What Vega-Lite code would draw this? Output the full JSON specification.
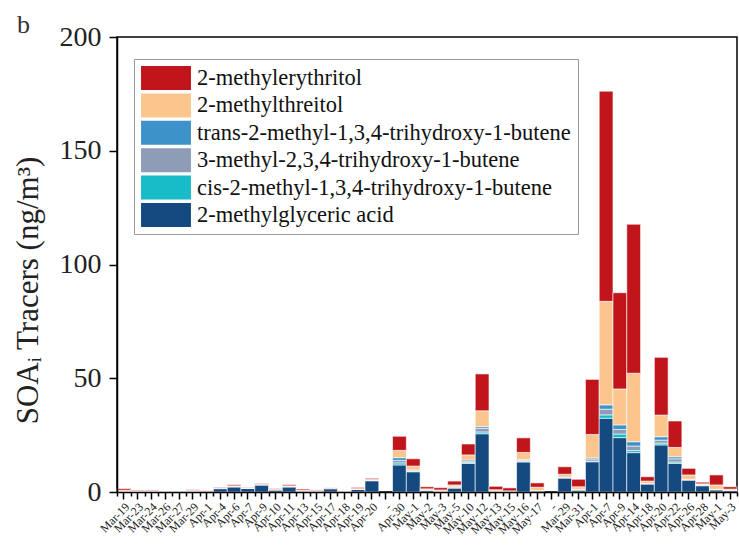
{
  "$schema": "https://vega.github.io/schema/vega-lite/v6.json",
  "width": 620,
  "height": 455,
  "autosize": {"type": "none"},
  "padding": {"left": 117, "top": 37, "right": 2, "bottom": 57},
  "background": "white",
  "config": {"view": {"stroke": "black", "strokeWidth": 1.5}},
  "title": {"text": "b", "anchor": "start", "frame": "group", "offset": -8, "dy": 28, "dx": -100, "baseline": "alphabetic", "font": "Liberation Serif", "fontSize": 26, "fontWeight": "normal", "color": "#333"},
  "datasets": {
    "names": [
      {"code": "G", "name": "2-methylglyceric acid", "rank": 1},
      {"code": "C", "name": "cis-2-methyl-1,3,4-trihydroxy-1-butene", "rank": 2},
      {"code": "M3", "name": "3-methyl-2,3,4-trihydroxy-1-butene", "rank": 3},
      {"code": "TR", "name": "trans-2-methyl-1,3,4-trihydroxy-1-butene", "rank": 4},
      {"code": "T", "name": "2-methylthreitol", "rank": 5},
      {"code": "E", "name": "2-methylerythritol", "rank": 6}
    ],
    "tracers": [
      {"k": "00|Mar-19", "G": 0.2, "C": 0, "M3": 0.2, "TR": 0, "T": 0.4, "E": 0.7},
      {"k": "01|Mar-23", "G": 0.1, "C": 0, "M3": 0.2, "TR": 0, "T": 0.2, "E": 0.3},
      {"k": "02|Mar-24", "G": 0.1, "C": 0, "M3": 0.3, "TR": 0, "T": 0.1, "E": 0.3},
      {"k": "03|Mar-26", "G": 0.05, "C": 0, "M3": 0, "TR": 0, "T": 0, "E": 0.05},
      {"k": "04|Mar-27", "G": 0.05, "C": 0, "M3": 0, "TR": 0, "T": 0, "E": 0.05},
      {"k": "05|Mar-29", "G": 0.2, "C": 0, "M3": 0.3, "TR": 0, "T": 0.2, "E": 0.3},
      {"k": "06|Apr-1", "G": 0.1, "C": 0, "M3": 0, "TR": 0, "T": 0.1, "E": 0.3},
      {"k": "07|Apr-4", "G": 1.5, "C": 0, "M3": 0.1, "TR": 0, "T": 0.1, "E": 0.3},
      {"k": "08|Apr-6", "G": 2.3, "C": 0, "M3": 0.1, "TR": 0.1, "T": 0.2, "E": 0.5},
      {"k": "09|Apr-7", "G": 1.6, "C": 0, "M3": 0.1, "TR": 0, "T": 0.1, "E": 0.2},
      {"k": "10|Apr-9", "G": 3.2, "C": 0, "M3": 0, "TR": 0, "T": 0.2, "E": 0.3},
      {"k": "11|Apr-10", "G": 1.0, "C": 0, "M3": 0, "TR": 0, "T": 0.2, "E": 0.3},
      {"k": "12|Apr-11", "G": 2.3, "C": 0, "M3": 0.1, "TR": 0, "T": 0.3, "E": 0.5},
      {"k": "13|Apr-13", "G": 0.5, "C": 0, "M3": 0, "TR": 0, "T": 0.3, "E": 0.5},
      {"k": "14|Apr-15", "G": 0.5, "C": 0, "M3": 0, "TR": 0, "T": 0.1, "E": 0.3},
      {"k": "15|Apr-17", "G": 1.5, "C": 0, "M3": 0, "TR": 0, "T": 0.1, "E": 0.2},
      {"k": "16|Apr-18", "G": 0.1, "C": 0, "M3": 0, "TR": 0, "T": 0, "E": 0.2},
      {"k": "17|Apr-19", "G": 1.2, "C": 0, "M3": 0, "TR": 0, "T": 0.3, "E": 0.5},
      {"k": "18|Apr-20", "G": 5.0, "C": 0, "M3": 0.2, "TR": 0, "T": 0.3, "E": 0.5},
      {"k": "20|Apr-30", "G": 11.9, "C": 0.9, "M3": 1.1, "TR": 1.2, "T": 3.2, "E": 6.2},
      {"k": "21|May-1", "G": 8.9, "C": 0.2, "M3": 0.3, "TR": 0.3, "T": 1.7, "E": 3.2},
      {"k": "22|May-2", "G": 0.9, "C": 0, "M3": 0, "TR": 0, "T": 0.5, "E": 0.9},
      {"k": "23|May-3", "G": 0.3, "C": 0, "M3": 0, "TR": 0, "T": 0.6, "E": 1.0},
      {"k": "24|May-5", "G": 1.8, "C": 0, "M3": 0.3, "TR": 0.2, "T": 0.8, "E": 1.7},
      {"k": "25|May-10", "G": 12.6, "C": 0.3, "M3": 0.6, "TR": 0.6, "T": 2.2, "E": 4.8},
      {"k": "26|May-12", "G": 25.6, "C": 0.8, "M3": 1.5, "TR": 0.8, "T": 7.0, "E": 16.2},
      {"k": "27|May-13", "G": 0.4, "C": 0, "M3": 0, "TR": 0, "T": 0.6, "E": 1.5},
      {"k": "28|May-15", "G": 0.2, "C": 0, "M3": 0, "TR": 0, "T": 0.3, "E": 1.3},
      {"k": "29|May-16", "G": 13.2, "C": 0.3, "M3": 0.4, "TR": 0.3, "T": 3.2, "E": 6.4},
      {"k": "30|May-17", "G": 0.6, "C": 0, "M3": 0, "TR": 0, "T": 1.5, "E": 1.9},
      {"k": "32|Mar-29", "G": 6.2, "C": 0, "M3": 0.2, "TR": 0.2, "T": 1.2, "E": 3.3},
      {"k": "33|Mar-31", "G": 0.9, "C": 0, "M3": 0.2, "TR": 0.1, "T": 1.1, "E": 3.3},
      {"k": "34|Apr-1", "G": 13.3, "C": 0.3, "M3": 0.9, "TR": 0.5, "T": 10.3, "E": 24.2},
      {"k": "35|Apr-7", "G": 32.4, "C": 1.5, "M3": 2.5, "TR": 1.9, "T": 45.5, "E": 92.4},
      {"k": "36|Apr-9", "G": 23.9, "C": 1.6, "M3": 2.0, "TR": 2.0, "T": 15.8, "E": 42.3},
      {"k": "37|Apr-14", "G": 17.3, "C": 0.9, "M3": 2.0, "TR": 1.9, "T": 30.1, "E": 65.5},
      {"k": "38|Apr-18", "G": 3.6, "C": 0, "M3": 0.1, "TR": 0, "T": 1.1, "E": 1.9},
      {"k": "39|Apr-20", "G": 20.7, "C": 0.8, "M3": 1.3, "TR": 1.5, "T": 9.5, "E": 25.4},
      {"k": "40|Apr-22", "G": 12.6, "C": 0.6, "M3": 1.4, "TR": 0.9, "T": 4.1, "E": 11.6},
      {"k": "41|Apr-26", "G": 5.3, "C": 0, "M3": 0.2, "TR": 0.1, "T": 1.9, "E": 2.9},
      {"k": "42|Apr-28", "G": 2.8, "C": 0, "M3": 0.3, "TR": 0.2, "T": 0.3, "E": 0.7},
      {"k": "43|May-1", "G": 1.0, "C": 0, "M3": 0.1, "TR": 0.1, "T": 1.9, "E": 4.4},
      {"k": "44|May-3", "G": 0.7, "C": 0, "M3": 0, "TR": 0, "T": 0.6, "E": 1.0}
    ]
  },
  "data": {"name": "tracers"},
  "transform": [
    {"fold": ["G", "C", "M3", "TR", "T", "E"], "as": ["code", "value"]},
    {"lookup": "code", "from": {"data": {"name": "names"}, "key": "code", "fields": ["name", "rank"]}}
  ],
  "layer": [
    {
      "mark": {"type": "bar", "stroke": "white", "strokeWidth": 0.6},
      "encoding": {
        "x": {
          "field": "k", "type": "nominal",
          "scale": {
            "domain": ["00|Mar-19","01|Mar-23","02|Mar-24","03|Mar-26","04|Mar-27","05|Mar-29","06|Apr-1","07|Apr-4","08|Apr-6","09|Apr-7","10|Apr-9","11|Apr-10","12|Apr-11","13|Apr-13","14|Apr-15","15|Apr-17","16|Apr-18","17|Apr-19","18|Apr-20","19|-","20|Apr-30","21|May-1","22|May-2","23|May-3","24|May-5","25|May-10","26|May-12","27|May-13","28|May-15","29|May-16","30|May-17","31|-","32|Mar-29","33|Mar-31","34|Apr-1","35|Apr-7","36|Apr-9","37|Apr-14","38|Apr-18","39|Apr-20","40|Apr-22","41|Apr-26","42|Apr-28","43|May-1","44|May-3"],
            "paddingInner": 0, "paddingOuter": 0
          },
          "axis": {
            "orient": "bottom", "title": null, "zindex": 1,
            "labelExpr": "split(datum.value, '|')[1]",
            "labelAngle": -45, "labelFont": "Liberation Serif", "labelFontSize": 12, "labelColor": "#222",
            "labelPadding": 2, "labelOverlap": false, "labelBound": false,
            "tickSize": 7, "tickColor": "black", "tickWidth": 1.5,
            "domainColor": "black", "domainWidth": 1.5
          }
        },
        "y": {
          "field": "value", "type": "quantitative",
          "scale": {"domain": [0, 200], "nice": false},
          "axis": {
            "values": [0, 50, 100, 150, 200], "grid": false, "zindex": 1,
            "tickSize": 8, "tickColor": "black", "tickWidth": 1.5,
            "domainColor": "black", "domainWidth": 1.5,
            "labelFont": "Liberation Serif", "labelFontSize": 28, "labelColor": "#222", "labelPadding": 8,
            "title": "SOAᵢ Tracers (ng/m³)",
            "titleFont": "Liberation Serif", "titleFontSize": 31, "titleFontWeight": "normal", "titleColor": "#222",
            "titlePadding": 15, "titleY": 253
          }
        },
        "color": {
          "field": "name", "type": "nominal",
          "scale": {
            "domain": ["2-methylerythritol", "2-methylthreitol", "trans-2-methyl-1,3,4-trihydroxy-1-butene", "3-methyl-2,3,4-trihydroxy-1-butene", "cis-2-methyl-1,3,4-trihydroxy-1-butene", "2-methylglyceric acid"],
            "range": ["#c0151b", "#fbc58e", "#3d93c9", "#8e9cb8", "#18bcc9", "#144a80"]
          },
          "legend": {
            "orient": "none", "legendX": 17, "legendY": 22, "title": null,
            "symbolType": "M-2.08,-1H2.08V1H-2.08Z", "symbolSize": 576, "symbolStrokeWidth": 0,
            "labelFont": "Liberation Serif", "labelFontSize": 22.5, "labelColor": "#111", "labelLimit": 600,
            "padding": 7, "strokeColor": "#999", "fillColor": "white",
            "rowPadding": 3.4, "symbolOffset": 13, "labelOffset": 19
          }
        },
        "order": {"field": "rank", "type": "quantitative", "sort": "ascending"}
      }
    },
    {
      "mark": {"type": "bar", "opacity": 0},
      "encoding": {
        "x": {
          "field": "k", "type": "nominal",
          "axis": {
            "orient": "bottom", "title": null, "labels": false, "domain": false, "zindex": 1,
            "tickBand": "extent", "tickSize": 4, "tickColor": "black", "tickWidth": 1.5
          }
        }
      }
    }
  ],
  "resolve": {"axis": {"x": "independent"}}
}
